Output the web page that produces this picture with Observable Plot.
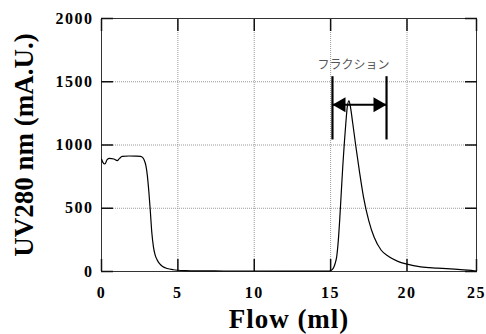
<!DOCTYPE html>
<html><head><meta charset="utf-8">
<script src="https://cdn.jsdelivr.net/npm/d3@7"></script>
<script src="https://cdn.jsdelivr.net/npm/@observablehq/plot@0.6"></script>
<style>
body{margin:0;background:#fff}
svg{display:block}
g[aria-label="x-axis tick label"], g[aria-label="y-axis tick label"]{font-weight:bold !important;font-size:16px !important;font-family:'Liberation Serif','Times New Roman',serif !important}
g[aria-label="x-axis tick label"] text, g[aria-label="y-axis tick label"] text{letter-spacing:1.5px;font-weight:bold}
g[aria-label="x-axis label"] text{letter-spacing:1px}
</style>
</head><body><div id="chart"></div>
<script>
// Flow (ml) and UV280 absorbance (mA.U.)
const flow = [0, 0.09, 0.22, 0.37, 0.52, 0.81, 1.03, 1.18, 1.35, 1.8, 2.25, 2.55, 2.7, 2.8, 2.9, 3.0, 3.1, 3.2, 3.3, 3.4, 3.5, 3.65, 3.8, 4.0, 4.3, 4.7, 5.0, 5.5, 6.5, 8, 10, 12, 14, 14.9, 15.1, 15.2, 15.3, 15.4, 15.5, 15.6, 15.7, 15.8, 15.9, 16.0, 16.1, 16.2, 16.3, 16.45, 16.65, 16.9, 17.15, 17.5, 17.85, 18.3, 18.8, 19.4, 20.0, 20.9, 22.0, 23.1, 24.0, 24.5];
const uv = [889, 863, 850, 884, 894, 889, 876, 894, 910, 913, 912, 910, 900, 880, 840, 760, 630, 470, 300, 195, 135, 90, 62, 40, 24, 14, 10, 7, 5, 4, 4, 3, 3, 3, 15, 32, 65, 120, 240, 420, 630, 840, 1020, 1180, 1310, 1350, 1300, 1170, 990, 780, 590, 400, 270, 170, 118, 80, 58, 37, 27, 19, 11, 4];

const xTicks = [0, 5, 10, 15, 20, 25];
const yTicks = [0, 500, 1000, 1500, 2000];
const xGrid = [5, 10, 15, 20];
const yGrid = [500, 1000, 1500];

// fraction annotation
const fractionBounds = [15.12, 18.66];
const fractionBarRange = [1040, 1540];
const fractionArrowLevel = 1318;
const fractionLabel = ["フラクション"];
const fractionLabelX = [16.5];
const fractionLabelY = [1628];

const xLabel = "Flow (ml)";
const yLabel = "UV280 nm (mA.U.)";

const data = flow.map((f, i) => ({flow: f, uv: uv[i]}));
const serif = "'Liberation Serif', 'Times New Roman', serif";
const tickStyle = {tickSize: -12, fill: "none", stroke: "#111", strokeWidth: 1.5, label: null};
const textStyle = {tickSize: 0, fontSize: 16, fontWeight: "bold", fontFamily: serif, fill: "#000", label: null, tickFormat: d => String(d)};

const plot = Plot.plot({
  width: 486,
  height: 334,
  marginLeft: 101,
  marginRight: 10,
  marginTop: 18,
  marginBottom: 63,
  style: {fontFamily: serif, background: "#fff", color: "#000"},
  x: {domain: [0, 24.55], clamp: true},
  y: {domain: [0, 2000]},
  marks: [
    Plot.gridX(xGrid, {stroke: "#999", strokeOpacity: 1, strokeDasharray: "1,1"}),
    Plot.gridY(yGrid, {stroke: "#999", strokeOpacity: 1, strokeDasharray: "1,1"}),
    Plot.frame({stroke: "#333", strokeWidth: 1}),
    Plot.axisX(xTicks, {anchor: "bottom", ...tickStyle}),
    Plot.axisX(xTicks, {anchor: "top", ...tickStyle}),
    Plot.axisY(yTicks, {anchor: "left", ...tickStyle}),
    Plot.axisY(yTicks, {anchor: "right", ...tickStyle}),
    Plot.axisX(xTicks, {anchor: "bottom", tickPadding: 15, ...textStyle}),
    Plot.axisY(yTicks, {anchor: "left", tickPadding: 8, ...textStyle}),
    Plot.axisX([], {anchor: "bottom", tickSize: 0, label: xLabel, labelAnchor: "center", labelArrow: "none", labelOffset: 56, fontSize: 27, fontWeight: "bold", fill: "#000"}),
    Plot.axisY([], {anchor: "left", tickSize: 0, label: yLabel, labelAnchor: "center", labelArrow: "none", labelOffset: 88, fontSize: 27, fontWeight: "bold", fill: "#000"}),
    Plot.line(data, {x: "flow", y: "uv", stroke: "#000", strokeWidth: 1.2, curve: "monotone-x"}),
    Plot.ruleX(fractionBounds, {y1: fractionBarRange[0], y2: fractionBarRange[1], stroke: "#000", strokeWidth: 2.2}),
    Plot.ruleY([fractionArrowLevel], {x1: fractionBounds[0], x2: fractionBounds[1], stroke: "#000", strokeWidth: 2}),
    Plot.dot([fractionBounds[0]], {x: d => d, y: () => fractionArrowLevel, symbol: "triangle", rotate: -90, r: 5.6, fill: "#000", stroke: "none", dx: 8.7}),
    Plot.dot([fractionBounds[1]], {x: d => d, y: () => fractionArrowLevel, symbol: "triangle", rotate: 90, r: 5.6, fill: "#000", stroke: "none", dx: -8.7}),
    Plot.text(fractionLabel, {x: (d, i) => fractionLabelX[i], y: (d, i) => fractionLabelY[i], text: d => d, fontFamily: "'Noto Sans CJK JP', sans-serif", fontSize: 12, fill: "#555"})
  ]
});
document.getElementById("chart").appendChild(plot);
</script>
</body></html>
